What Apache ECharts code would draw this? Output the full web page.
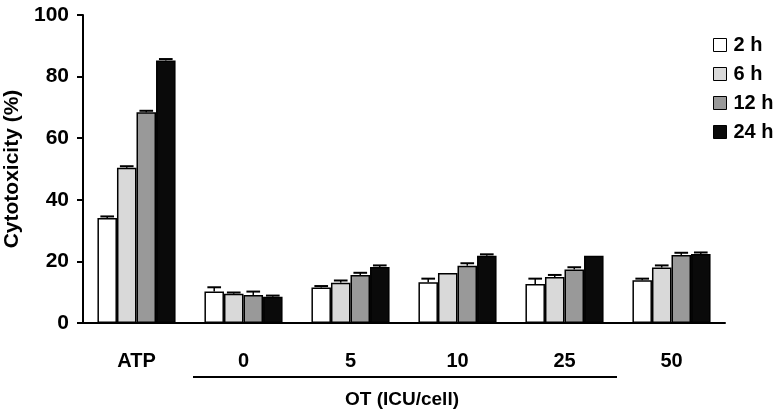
<!DOCTYPE html>
<html><head><meta charset="utf-8">
<script src="https://cdn.jsdelivr.net/npm/echarts@6/dist/echarts.min.js"></script>
<style>html,body{margin:0;padding:0;background:#fff}#c{width:784px;height:417px}</style>
</head><body><div id="c"></div>
<script>
var categories = ['ATP', '0', '5', '10', '25', '50'];
var seriesNames = ['2 h', '6 h', '12 h', '24 h'];
var v2h  = [34.1, 10.2, 11.5, 13.2, 12.7, 13.9];
var v6h  = [50.4, 9.5, 13.1, 16.2, 14.9, 18.0];
var v12h = [68.4, 9.1, 15.6, 18.6, 17.4, 22.1];
var v24h = [85.2, 8.5, 18.2, 21.8, 21.8, 22.4];
var e2h  = [0.5, 1.4, 0.5, 1.2, 1.7, 0.5];
var e6h  = [0.5, 0.4, 0.7, 0, 0.7, 0.7];
var e12h = [0.5, 1.1, 0.7, 0.8, 0.7, 0.7];
var e24h = [0.5, 0.4, 0.5, 0.5, 0, 0.5];
var yTicks = [0, 20, 40, 60, 80, 100];
var xAxisTitle = 'OT (ICU/cell)';
var yAxisTitle = 'Cytotoxicity (%)';

var values = [v2h, v6h, v12h, v24h];
var errors = [e2h, e6h, e12h, e24h];
var colors = ['#ffffff', '#d9d9d9', '#999999', '#0a0a0a'];
var gapFrac = 0.27;
var font = '"Liberation Sans", Arial, sans-serif';

var chart = echarts.init(document.getElementById('c'));
var series = [];
values.forEach(function (vals, i) {
  series.push({
    name: seriesNames[i], type: 'bar', data: vals,
    barGap: '0%', barCategoryGap: (gapFrac * 100) + '%',
    itemStyle: { color: colors[i], borderColor: '#000', borderWidth: 1.5 },
    emphasis: { disabled: true }
  });
});
values.forEach(function (vals, i) {
  series.push({
    type: 'custom', silent: true, z: 1,
    data: vals.map(function (v, k) { return [k, v, errors[i][k]]; }),
    encode: { x: 0, y: 1 },
    renderItem: function (params, api) {
      var k = api.value(0), v = api.value(1), e = api.value(2);
      if (!e) return null;
      var band = api.size([1, 0])[0];
      var bw = band * (1 - gapFrac) / 4;
      var base = api.coord([k, v]);
      var top = api.coord([k, v + e]);
      var cx = base[0] - band * (1 - gapFrac) / 2 + (i + 0.5) * bw;
      var hw = bw * 0.35;
      return {
        type: 'group',
        children: [
          { type: 'line', shape: { x1: cx, y1: base[1], x2: cx, y2: top[1] }, style: { stroke: '#000', lineWidth: 1.5 } },
          { type: 'line', shape: { x1: cx - hw, y1: top[1], x2: cx + hw, y2: top[1] }, style: { stroke: '#000', lineWidth: 2 } }
        ]
      };
    }
  });
});

chart.setOption({
  animation: false,
  grid: { left: 83, right: 59, top: 15, bottom: 94, containLabel: false, outerBoundsMode: 'none' },
  legend: {
    data: seriesNames.map(function (n, i) { return { name: n, itemStyle: { color: colors[i], borderColor: '#000', borderWidth: 1 } }; }),
    orient: 'vertical', left: 708, top: 30, icon: 'rect', itemWidth: 13, itemHeight: 13, itemGap: 9,
    textStyle: { fontFamily: font, fontWeight: 'bold', fontSize: 20, color: '#000', padding: [0, 0, 0, 2] }
  },
  xAxis: {
    type: 'category', data: categories,
    axisLine: { lineStyle: { color: '#000', width: 2 } },
    axisTick: { inside: true, length: 6, lineStyle: { color: '#000', width: 2 } },
    axisLabel: { margin: 28, fontFamily: font, fontWeight: 'bold', fontSize: 20, color: '#000' }
  },
  yAxis: {
    type: 'value', min: yTicks[0], max: yTicks[yTicks.length - 1], interval: 20,
    name: yAxisTitle, nameLocation: 'middle', nameGap: 52, nameRotate: 90,
    nameTextStyle: { fontFamily: font, fontWeight: 'bold', fontSize: 21, color: '#000' },
    splitLine: { show: false },
    axisLine: { show: true, lineStyle: { color: '#000', width: 2 } },
    axisTick: { show: true, length: 6, lineStyle: { color: '#000', width: 2 } },
    axisLabel: { margin: 14, fontFamily: font, fontWeight: 'bold', fontSize: 21, color: '#000' }
  },
  graphic: [
    { type: 'line', shape: { x1: 193, y1: 377, x2: 617, y2: 377 }, style: { stroke: '#000', lineWidth: 2 } },
    { type: 'text', style: { text: xAxisTitle, x: 402, y: 400, align: 'center', verticalAlign: 'middle', font: 'bold 19px ' + font, fill: '#000' } }
  ],
  series: series
});
</script></body></html>
